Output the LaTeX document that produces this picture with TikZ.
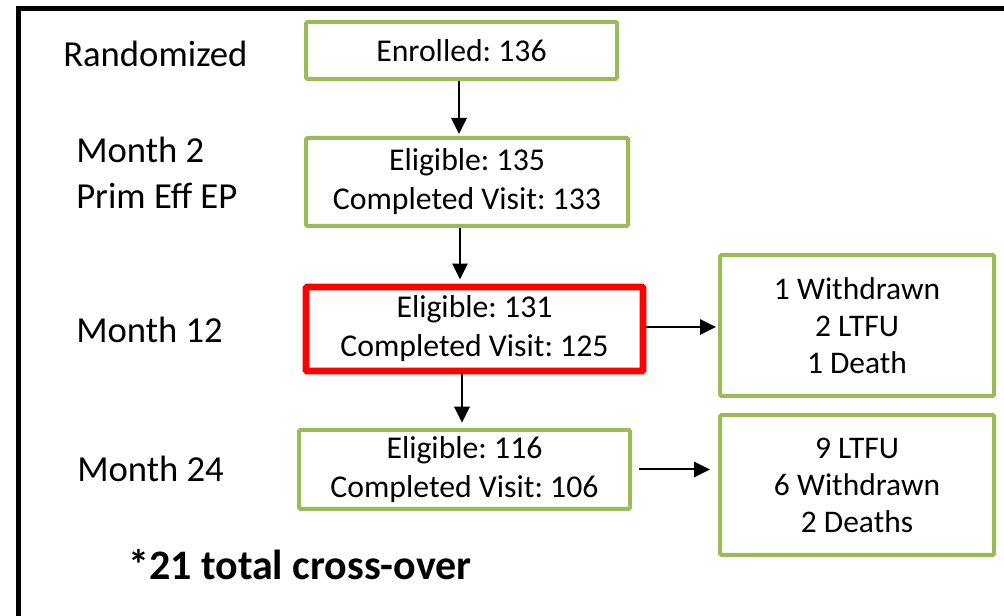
\documentclass[tikz,border=0pt]{standalone}
\usepackage{fontspec}
\setmainfont{Carlito}
\frenchspacing
\usetikzlibrary{arrows.meta}
\definecolor{boxgreen}{HTML}{9BBB59}
\definecolor{boxred}{HTML}{FF0000}
\tikzset{
  gbox/.style={draw=boxgreen, line width=3pt, rounded corners=1pt, inner sep=0pt, align=center,
    font=\fontsize{23.8pt}{29.2pt}\selectfont\frenchspacing},
  rbox/.style={gbox, draw=boxred, line width=5.2pt},
  sidebox/.style={gbox, font=\fontsize{23.6pt}{27.8pt}\selectfont\frenchspacing},
  lab/.style={inner sep=0pt, anchor=base west, align=left, font=\fontsize{27.5pt}{34.5pt}\selectfont},
  arr/.style={line width=1.5pt, -{Triangle[length=12pt,width=11.5pt]}},
}
\begin{document}
\begin{tikzpicture}[x=0.75pt,y=-0.75pt]
\useasboundingbox (0,0) rectangle (1004,616);
\clip (0,0) rectangle (1004,616);
\fill[white] (0,0) rectangle (1004,616);
% outer frame
\draw[line width=3.4pt] (18.3,650) -- (18.3,8.5) -- (1040,8.5);
% boxes
\node[gbox, minimum width=233.25pt, minimum height=42.75pt] (e) at (461.5,50.5) {Enrolled: 136};
\node[gbox, minimum width=241.5pt, minimum height=66pt] (b2) at (467,182) {Eligible: 135\\Completed Visit: 133};
\node[rbox, minimum width=252.75pt, minimum height=63pt] (b3) at (474.5,329) {Eligible: 131\\Completed Visit: 125};
\node[gbox, minimum width=248.25pt, minimum height=59.25pt] (b4) at (464.5,469.5) {Eligible: 116\\Completed Visit: 106};
\node[sidebox, minimum width=205.5pt, minimum height=105.75pt] (r1) at (857,325.5) {1 Withdrawn\\2 LTFU\\1 Death};
\node[sidebox, minimum width=205.5pt, minimum height=105pt] (r2) at (857,485) {9 LTFU\\6 Withdrawn\\2 Deaths};
% labels
\node[lab] (l0) at (63,67) {Randomized};
\node[lab] (l1) at (76,209) {Month 2\\Prim Eff EP};
\node[lab] (l2) at (76,343) {Month 12};
\node[lab] (l3) at (77,482) {Month 24};
\node[inner sep=0pt, anchor=base west, font=\fontsize{31.5pt}{36pt}\selectfont\bfseries] (note) at (128,580) {*21 total cross-over};
% connectors
\draw[arr, shorten >=1.5pt] ([xshift=-1.875pt]e.south) -- ([xshift=-1.875pt]e.south |- b2.north);
\draw[arr, shorten >=3pt] ([xshift=-5.25pt]b2.south) -- ([xshift=-5.25pt]b2.south |- b3.north);
\draw[arr, shorten >=4pt] ([xshift=-9.375pt]b3.south) -- ([xshift=-9.375pt]b3.south |- b4.north);
\draw[arr, shorten >=1.5pt] ([yshift=1.5pt]b3.east) -- ([yshift=1.5pt]b3.east -| r1.west);
\draw[arr, shorten <=5pt, shorten >=6pt] (b4.east) -- (b4.east -| r2.west);
\end{tikzpicture}
\end{document}
